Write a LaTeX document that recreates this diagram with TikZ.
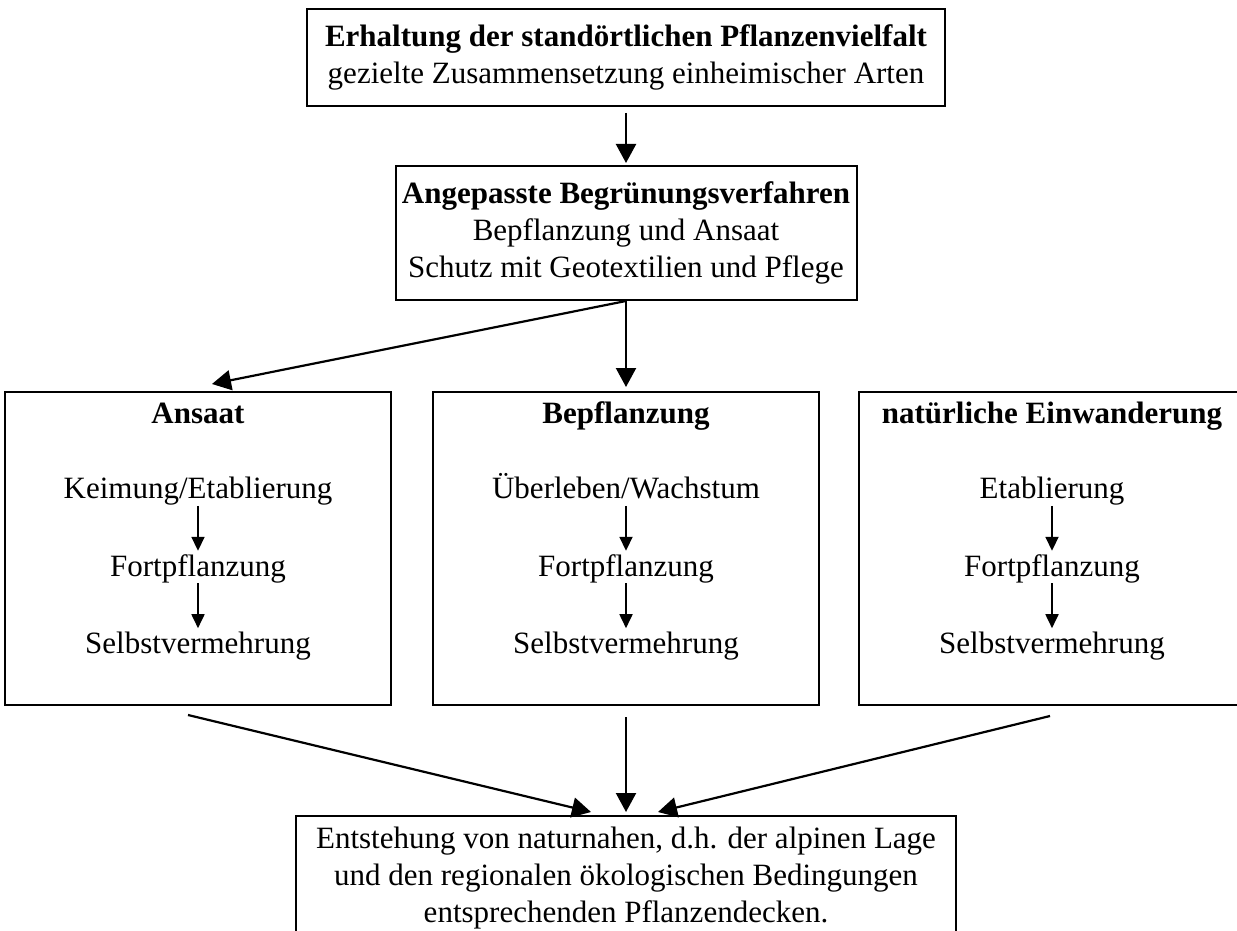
\documentclass[tikz,border=0pt]{standalone}
\usepackage{fontspec}
\setmainfont{Liberation Serif}
\usetikzlibrary{positioning, arrows.meta}

\begin{document}
\begin{tikzpicture}[
		x=1pt, y=-1pt,
		node distance=48pt,
		box/.style={rectangle, draw, line width=2pt, align=center, inner sep=0pt, font=\fontsize{31}{37}\selectfont},
		stage/.style={inner sep=0pt, text height=22pt, text depth=7pt, font=\fontsize{31}{37}\selectfont},
		boxtitle/.style={stage, font=\fontsize{31}{37}\selectfont\bfseries},
		arrow/.style={line width=2.2pt, -{Triangle[length=19pt, width=20pt]}},
		steparrow/.style={line width=1.8pt, -{Triangle[length=14pt, width=13pt]}}
		]
		
		\fill[white] (0,0) rectangle (1237,931);
		\useasboundingbox (0,0) rectangle (1237,931);
		
		% Nodes
		\node[box, minimum width=638pt, minimum height=97pt] (erhalt) at (626,57.5) {\textbf{Erhaltung der standörtlichen Pflanzenvielfalt}\\gezielte Zusammensetzung einheimischer Arten};
		\node[box, minimum width=461pt, minimum height=134pt, below=58pt of erhalt] (verfahren) {\textbf{Angepasste Begrünungsverfahren}\\Bepflanzung und Ansaat\\Schutz mit Geotextilien und Pflege};
		
		\node[box, minimum width=386pt, minimum height=313pt, below=90pt of verfahren] (bepfl) {};
		\node[box, minimum width=386pt, minimum height=313pt, left=40pt of bepfl] (ansaat) {};
		\node[box, minimum width=386pt, minimum height=313pt, right=38pt of bepfl] (einw) {};
		
		\node[boxtitle, below=10pt of ansaat.north] (ansaatT) {Ansaat};
		\node[stage, below=46pt of ansaatT] (ansaat1) {Keimung/Etablierung};
		\node[stage, below=of ansaat1] (ansaat2) {Fortpflanzung};
		\node[stage, below=of ansaat2] (ansaat3) {Selbstvermehrung};
		
		\node[boxtitle, below=10pt of bepfl.north] (bepflT) {Bepflanzung};
		\node[stage, below=46pt of bepflT] (bepfl1) {Überleben/Wachstum};
		\node[stage, below=of bepfl1] (bepfl2) {Fortpflanzung};
		\node[stage, below=of bepfl2] (bepfl3) {Selbstvermehrung};
		
		\node[boxtitle, below=10pt of einw.north] (einwT) {natürliche Einwanderung};
		\node[stage, below=46pt of einwT] (einw1) {Etablierung};
		\node[stage, below=of einw1] (einw2) {Fortpflanzung};
		\node[stage, below=of einw2] (einw3) {Selbstvermehrung};
		
		\node[box, minimum width=660pt, inner ysep=11pt, below=109pt of bepfl] (result) {Entstehung von naturnahen, d.h. der alpinen Lage\\und den regionalen ökologischen Bedingungen\\entsprechenden Pflanzendecken.};
		
		% Edges
		\draw[arrow, shorten <=6pt, shorten >=2pt] (erhalt) -- (verfahren);
		\draw[arrow, shorten >=4pt] (verfahren) -- (bepfl);
		\draw[arrow] (verfahren.south) -- ([xshift=14pt, yshift=7pt]ansaat.north);
		
		\draw[steparrow, shorten >=3pt] (ansaat1) -- (ansaat2);
		\draw[steparrow, shorten >=3pt] (ansaat2) -- (ansaat3);
		\draw[steparrow, shorten >=3pt] (bepfl1) -- (bepfl2);
		\draw[steparrow, shorten >=3pt] (bepfl2) -- (bepfl3);
		\draw[steparrow, shorten >=3pt] (einw1) -- (einw2);
		\draw[steparrow, shorten >=3pt] (einw2) -- (einw3);
		
		\draw[arrow] ([xshift=-10pt, yshift=-9pt]ansaat.south) -- ([xshift=-35pt, yshift=3pt]result.north);
		\draw[arrow] ([yshift=-11pt]bepfl.south) -- ([yshift=3pt]result.north);
		\draw[arrow] ([xshift=-2pt, yshift=-10pt]einw.south) -- ([xshift=32pt, yshift=3pt]result.north);
		
	\end{tikzpicture}
\end{document}
